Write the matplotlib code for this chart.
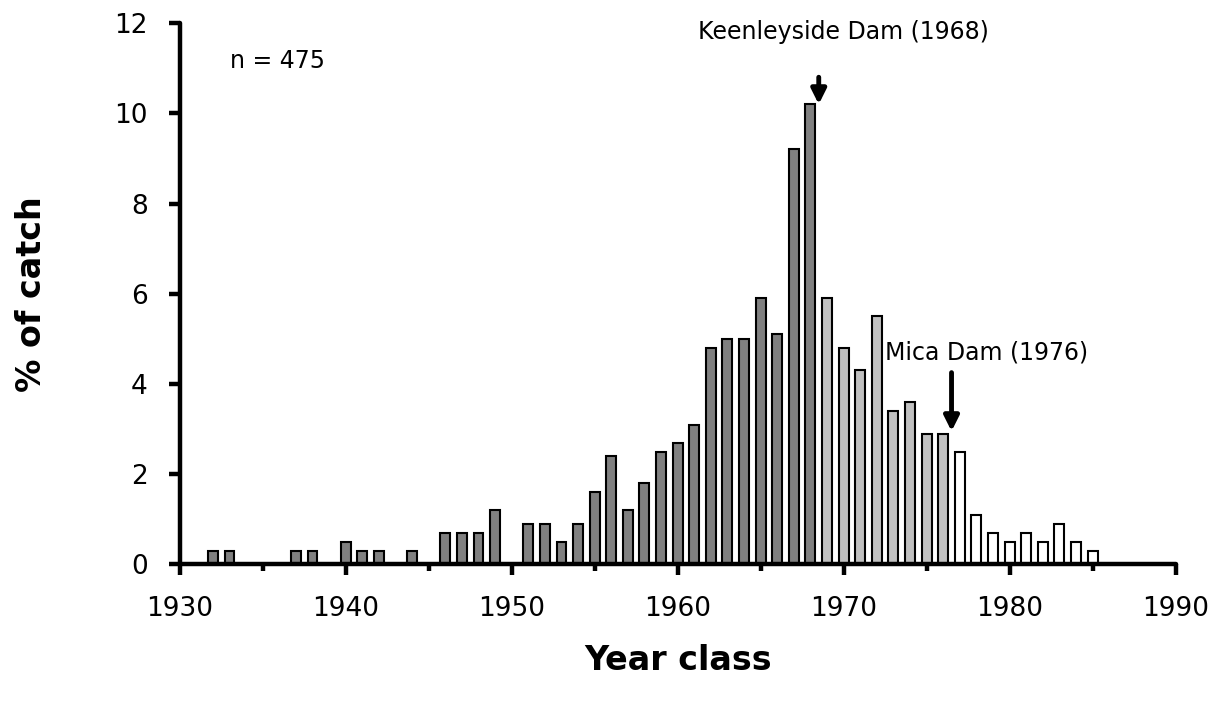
import numpy as np
import matplotlib
matplotlib.use("Agg")
import matplotlib.pyplot as plt
from matplotlib.ticker import MultipleLocator

# Year classes and % of catch
years = np.arange(1932, 1986)
pct_catch = [
    0.3, 0.3, 0.0, 0.0, 0.0, 0.3, 0.3, 0.0, 0.5, 0.3,   # 1932-1941
    0.3, 0.0, 0.3, 0.0, 0.7, 0.7, 0.7, 1.2, 0.0, 0.9,   # 1942-1951
    0.9, 0.5, 0.9, 1.6, 2.4, 1.2, 1.8, 2.5, 2.7, 3.1,   # 1952-1961
    4.8, 5.0, 5.0, 5.9, 5.1, 9.2, 10.2, 5.9, 4.8, 4.3,  # 1962-1971
    5.5, 3.4, 3.6, 2.9, 2.9, 2.5, 1.1, 0.7, 0.5, 0.7,   # 1972-1981
    0.5, 0.9, 0.5, 0.3,                                 # 1982-1985
]
keenleyside_year = 1968
mica_year = 1976
n_fish = 475

plt.rcParams["font.family"] = ["DejaVu Sans"]

fig = plt.figure(figsize=(12.31, 7.01), dpi=100)
ax = fig.add_axes([0.146, 0.195, 0.809, 0.772])

pct = np.array(pct_catch)
# dark = before Keenleyside, light = between the dams, white = after Mica
colors = np.where(years <= keenleyside_year, "#808080",
                  np.where(years <= mica_year, "#c0c0c0", "white"))
ax.bar(years, pct, width=0.6, color=colors, edgecolor="black", linewidth=1.5, zorder=2)

ax.set_xlim(1930, 1990)
ax.set_ylim(0, 12)
ax.xaxis.set_major_locator(MultipleLocator(10))
ax.xaxis.set_minor_locator(MultipleLocator(5))
ax.yaxis.set_major_locator(MultipleLocator(2))

for side in ("top", "right"):
    ax.spines[side].set_visible(False)
for side in ("left", "bottom"):
    ax.spines[side].set_linewidth(3.2)
    ax.spines[side].set_capstyle("round")

ax.tick_params(axis="both", which="major", direction="out", length=8, width=3.2,
               labelsize=19, pad=15)
ax.tick_params(axis="x", which="minor", direction="out", length=5, width=3.2)

ax.set_xlabel("Year class", fontsize=24, fontweight="bold", labelpad=16)
ax.set_ylabel("% of catch", fontsize=24, fontweight="bold", labelpad=48)

ax.text(0.05, 0.93, f"n = {n_fish}", transform=ax.transAxes, fontsize=17,
        ha="left", va="center")

arrow = dict(arrowstyle="-|>", lw=3.5, color="black", mutation_scale=22,
             shrinkA=0, shrinkB=0)
ax.annotate("", xy=(keenleyside_year + 0.5, 10.2), xytext=(keenleyside_year + 0.5, 10.8),
            arrowprops=arrow)
ax.text(keenleyside_year + 2.0, 11.8, "Keenleyside Dam (1968)", fontsize=17,
        ha="center", va="center")
ax.annotate("", xy=(mica_year + 0.5, 2.95), xytext=(mica_year + 0.5, 4.25),
            arrowprops=arrow)
ax.text(1972.5, 4.7, "Mica Dam (1976)", fontsize=17, ha="left", va="center")

fig.savefig("out.png", dpi=100)
